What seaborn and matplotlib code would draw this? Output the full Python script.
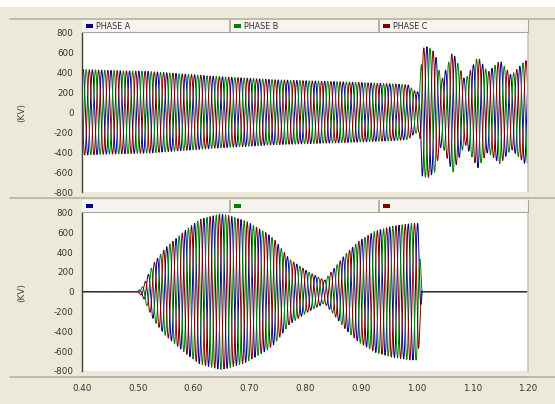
"""
Three-phase voltage waveforms, two stacked panels (kV vs time in s).
"""

import numpy as np
import pandas as pd
import matplotlib
matplotlib.use("Agg")
import matplotlib.pyplot as plt
from matplotlib.patches import Rectangle
from matplotlib.lines import Line2D
import seaborn as sns

# ---------- Data ----------
FREQ_HZ = 60.0
PHASES = ["PHASE A", "PHASE B", "PHASE C"]
PHASE_SHIFT_DEG = [0.0, -120.0, 120.0]
PHASE_COLORS = ["#000080", "#008000", "#800000"]

# peak amplitude (kV) of the upper panel at a few instants
top_env_t = [0.40, 0.45, 0.52, 0.64, 0.75, 0.87, 0.96, 0.985, 0.995, 1.005,
             1.010, 1.020, 1.033, 1.045, 1.065, 1.087, 1.110, 1.128, 1.150,
             1.170, 1.195, 1.200]
top_env_kv = [430, 420, 410, 360, 325, 305, 285, 275, 220, 200,
              640, 660, 600, 320, 610, 320, 560, 400, 520,
              370, 520, 510]

# peak amplitude (kV) of the lower panel
bot_env_t = [0.40, 0.500, 0.510, 0.520, 0.530, 0.550, 0.587, 0.611, 0.648,
             0.660, 0.695, 0.731, 0.745, 0.772, 0.805, 0.835, 0.872, 0.896,
             0.925, 0.955, 0.990, 1.003, 1.008, 1.010, 1.200]
bot_env_kv = [0, 0, 60, 190, 300, 445, 628, 729, 787,
              775, 712, 594, 530, 330, 205, 115, 375, 509,
              610, 660, 690, 690, 200, 0, 0]

x_ticks = [0.40, 0.50, 0.60, 0.70, 0.80, 0.90, 1.00, 1.10, 1.20]
y_ticks = [-800, -600, -400, -200, 0, 200, 400, 600, 800]

# ---------- Build long-format frames ----------
t = np.arange(0.40, 1.2001, 1.0 / (FREQ_HZ * 48))


def build_frame(env_t, env_kv):
    env = np.interp(t, env_t, env_kv)
    parts = []
    for name, shift in zip(PHASES, PHASE_SHIFT_DEG):
        v = env * np.cos(2 * np.pi * FREQ_HZ * (t - 0.402) + np.deg2rad(shift))
        parts.append(pd.DataFrame({"time": t, "kv": v, "phase": name}))
    return pd.concat(parts, ignore_index=True)


top_df = build_frame(top_env_t, top_env_kv)
bot_df = build_frame(bot_env_t, bot_env_kv)

# ---------- Figure ----------
sns.set_style("white")
plt.rcParams["font.family"] = ["DejaVu Sans"]

W, H = 555, 404
BG = "#ECE9D8"
fig = plt.figure(figsize=(W / 100, H / 100), dpi=100, facecolor=BG)


def rect_px(x, y, w, h):
    return [x / W, 1 - (y + h) / H, w / W, h / H]


# white band at the very top and gray separator lines
fig.add_artist(Rectangle((0, 1 - 7 / H), 1, 7 / H, transform=fig.transFigure,
                         facecolor="white", edgecolor="none"))
for y_px in [18.5, 198, 377]:
    fig.add_artist(Line2D([10 / W, 1], [1 - y_px / H] * 2, transform=fig.transFigure,
                          color="#B4B2A6", linewidth=1.2))


def style_plot(ax):
    ax.set_facecolor("white")
    ax.set_xlim(0.40, 1.20)
    ax.set_ylim(-800, 800)
    ax.set_yticks(y_ticks)
    ax.set_yticklabels([str(v) for v in y_ticks], fontsize=6.3, color="#333333")
    ax.tick_params(axis="y", direction="out", length=4, width=0.8, color="#404040", pad=2)
    ax.set_xlabel("")
    ax.set_ylabel("")
    for side in ["top", "bottom"]:
        ax.spines[side].set_visible(False)
    ax.spines["left"].set_color("#404040")
    ax.spines["left"].set_linewidth(1.0)
    ax.spines["right"].set_color("#C8C6BA")
    ax.spines["right"].set_linewidth(1.2)


def legend_strip(rect, labels):
    lx = fig.add_axes(rect)
    lx.set_facecolor("#F5F4EE")
    lx.set_xlim(82, 528)
    lx.set_ylim(12, 0)
    lx.set_xticks([])
    lx.set_yticks([])
    for side in ["top", "left"]:
        lx.spines[side].set_visible(False)
    lx.spines["bottom"].set_color("#A9A79C")
    lx.spines["right"].set_color("#A9A79C")
    for x_sep in [229.5, 379]:
        lx.axvline(x_sep, color="#A9A79C", linewidth=1.2)
    for x0, color, label in zip([86, 234, 383], PHASE_COLORS, labels):
        lx.add_patch(Rectangle((x0, 4.2), 7, 3.6, facecolor=color, edgecolor="none"))
        if label:
            lx.text(x0 + 10, 6.3, label, fontsize=5.8, color="#333333", va="center", ha="left")


# ---------- Upper panel ----------
ax1 = fig.add_axes(rect_px(82, 32.5, 446, 159.5))
sns.lineplot(data=top_df, x="time", y="kv", hue="phase", hue_order=PHASES,
             palette=PHASE_COLORS, estimator=None, sort=False, legend=False,
             linewidth=0.7, ax=ax1)
style_plot(ax1)
ax1.set_xticks([])
legend_strip(rect_px(82, 20, 446, 12), PHASES)

# ---------- Lower panel ----------
ax2 = fig.add_axes(rect_px(82, 212.5, 446, 158.5))
sns.lineplot(data=bot_df, x="time", y="kv", hue="phase", hue_order=PHASES,
             palette=PHASE_COLORS, estimator=None, sort=False, legend=False,
             linewidth=0.7, ax=ax2)
style_plot(ax2)
ax2.spines["bottom"].set_visible(True)
ax2.spines["bottom"].set_position(("outward", 4.3))
ax2.spines["bottom"].set_color("#B4B2A6")
ax2.spines["bottom"].set_linewidth(1.2)
ax2.set_xticks(x_ticks)
ax2.set_xticklabels([f"{v:.2f}" for v in x_ticks], fontsize=6.3, color="#333333")
ax2.tick_params(axis="x", direction="out", length=3, width=0.8, color="#404040", pad=2)
legend_strip(rect_px(82, 200, 446, 12), ["", "", ""])

# axis titles
for y_px in [112, 292]:
    fig.text(22 / W, 1 - y_px / H, "(KV)", rotation=90, fontsize=6.5,
             color="#444444", ha="center", va="center")

fig.savefig("out.png", dpi=100, facecolor=BG)
